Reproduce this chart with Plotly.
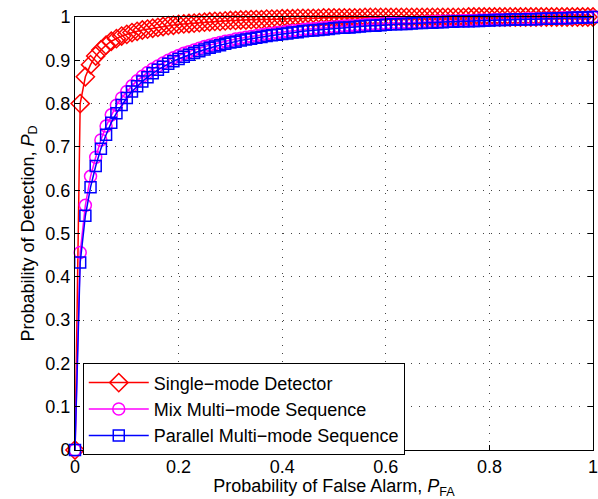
import plotly.graph_objects as go

p_fa = [0.00, 0.01, 0.02, 0.03, 0.04, 0.05, 0.06, 0.07, 0.08, 0.09,
        0.10, 0.11, 0.12, 0.13, 0.14, 0.15, 0.16, 0.17, 0.18, 0.19,
        0.20, 0.21, 0.22, 0.23, 0.24, 0.25, 0.26, 0.27, 0.28, 0.29,
        0.30, 0.31, 0.32, 0.33, 0.34, 0.35, 0.36, 0.37, 0.38, 0.39,
        0.40, 0.41, 0.42, 0.43, 0.44, 0.45, 0.46, 0.47, 0.48, 0.49,
        0.50, 0.51, 0.52, 0.53, 0.54, 0.55, 0.56, 0.57, 0.58, 0.59,
        0.60, 0.61, 0.62, 0.63, 0.64, 0.65, 0.66, 0.67, 0.68, 0.69,
        0.70, 0.71, 0.72, 0.73, 0.74, 0.75, 0.76, 0.77, 0.78, 0.79,
        0.80, 0.81, 0.82, 0.83, 0.84, 0.85, 0.86, 0.87, 0.88, 0.89,
        0.90, 0.91, 0.92, 0.93, 0.94, 0.95, 0.96, 0.97, 0.98, 0.99,
        1.00]

single_mode = [0.000, 0.800, 0.862, 0.890, 0.910, 0.924, 0.935, 0.944, 0.950, 0.956,
               0.960, 0.964, 0.967, 0.970, 0.972, 0.974, 0.976, 0.978, 0.980, 0.981,
               0.983, 0.984, 0.985, 0.986, 0.987, 0.988, 0.989, 0.990, 0.990, 0.991,
               0.992, 0.992, 0.993, 0.993, 0.994, 0.994, 0.994, 0.995, 0.995, 0.995,
               0.996, 0.996, 0.996, 0.997, 0.997, 0.997, 0.997, 0.997, 0.998, 0.998,
               0.998, 0.998, 0.998, 0.998, 0.998, 0.998, 0.999, 0.999, 0.999, 0.999,
               0.999, 0.999, 0.999, 0.999, 0.999, 0.999, 0.999, 0.999, 0.999, 0.999,
               0.999, 0.999, 0.999, 0.999, 0.999, 0.999, 1.000, 1.000, 1.000, 1.000,
               1.000, 1.000, 1.000, 1.000, 1.000, 1.000, 1.000, 1.000, 1.000, 1.000,
               1.000, 1.000, 1.000, 1.000, 1.000, 1.000, 1.000, 1.000, 1.000, 1.000,
               1.000]

mix_multi = [0.000, 0.456, 0.565, 0.632, 0.676, 0.716, 0.748, 0.774, 0.796, 0.813,
             0.828, 0.841, 0.853, 0.863, 0.872, 0.880, 0.887, 0.894, 0.900, 0.906,
             0.911, 0.916, 0.920, 0.924, 0.928, 0.932, 0.935, 0.938, 0.941, 0.944,
             0.946, 0.949, 0.951, 0.953, 0.955, 0.957, 0.959, 0.961, 0.962, 0.964,
             0.965, 0.967, 0.968, 0.969, 0.971, 0.972, 0.973, 0.974, 0.975, 0.976,
             0.977, 0.978, 0.979, 0.980, 0.980, 0.981, 0.982, 0.983, 0.983, 0.984,
             0.985, 0.985, 0.986, 0.986, 0.987, 0.987, 0.988, 0.988, 0.989, 0.989,
             0.990, 0.990, 0.991, 0.991, 0.991, 0.992, 0.992, 0.992, 0.993, 0.993,
             0.993, 0.994, 0.994, 0.994, 0.995, 0.995, 0.995, 0.996, 0.996, 0.996,
             0.996, 0.997, 0.997, 0.997, 0.998, 0.998, 0.998, 0.999, 0.999, 0.999,
             1.000]

parallel_multi = [0.000, 0.433, 0.541, 0.607, 0.656, 0.696, 0.728, 0.756, 0.778, 0.797,
                  0.813, 0.828, 0.840, 0.851, 0.861, 0.870, 0.878, 0.885, 0.892, 0.898,
                  0.903, 0.908, 0.913, 0.917, 0.921, 0.925, 0.929, 0.932, 0.935, 0.938,
                  0.941, 0.943, 0.946, 0.948, 0.950, 0.952, 0.954, 0.956, 0.958, 0.959,
                  0.961, 0.962, 0.964, 0.965, 0.967, 0.968, 0.969, 0.970, 0.971, 0.972,
                  0.974, 0.975, 0.975, 0.976, 0.977, 0.978, 0.979, 0.980, 0.980, 0.981,
                  0.982, 0.983, 0.983, 0.984, 0.984, 0.985, 0.986, 0.986, 0.987, 0.987,
                  0.988, 0.988, 0.989, 0.989, 0.990, 0.990, 0.990, 0.991, 0.991, 0.992,
                  0.992, 0.993, 0.993, 0.993, 0.994, 0.994, 0.994, 0.995, 0.995, 0.995,
                  0.996, 0.996, 0.996, 0.997, 0.997, 0.997, 0.998, 0.998, 0.999, 0.999,
                  1.000]

tick_vals_x = [0, 0.2, 0.4, 0.6, 0.8, 1]
tick_text_x = ["0", "0.2", "0.4", "0.6", "0.8", "1"]
tick_vals_y = [0, 0.1, 0.2, 0.3, 0.4, 0.5, 0.6, 0.7, 0.8, 0.9, 1]
tick_text_y = ["0", "0.1", "0.2", "0.3", "0.4", "0.5", "0.6", "0.7", "0.8", "0.9", "1"]

series = [
    ("Single−mode Detector", single_mode, "#ff0000", "diamond-open", 14),
    ("Mix Multi−mode Sequence", mix_multi, "#ff00ff", "circle-open", 12),
    ("Parallel Multi−mode Sequence", parallel_multi, "#0000ff", "square-open", 11),
]

fig = go.Figure()
for name, vals, color, sym, size in series:
    fig.add_trace(go.Scatter(
        x=p_fa, y=vals, name=name, mode="lines+markers",
        line=dict(color=color, width=1.5),
        marker=dict(symbol=sym, size=size, color=color, line=dict(color=color, width=1.5)),
        cliponaxis=False,
    ))

font_family = "Liberation Sans, Arial, sans-serif"
FS = 18
axis_common = dict(
    showline=True, linecolor="black", linewidth=1, mirror="ticks",
    ticks="inside", ticklen=5, tickcolor="black", tickwidth=1,
    showgrid=True, gridcolor="#444444", gridwidth=1, griddash="1px,7px",
    zeroline=False, automargin=False, ticklabeloverflow="allow",
    tickfont=dict(family=font_family, size=FS, color="black"),
)

fig.update_layout(
    width=598, height=499,
    margin=dict(l=75, r=5, t=17, b=49),
    paper_bgcolor="white", plot_bgcolor="white",
    font=dict(family=font_family, size=FS, color="black"),
    xaxis=dict(range=[0, 1], tickvals=tick_vals_x, ticktext=tick_text_x,
               title=dict(text="Probability of False Alarm, <i>P</i><sub>FA</sub>",
                          font=dict(size=FS), standoff=2),
               **axis_common),
    yaxis=dict(range=[0, 1], tickvals=tick_vals_y, ticktext=tick_text_y,
               title=dict(text="Probability of Detection, <i>P</i><sub>D</sub>",
                          font=dict(size=FS), standoff=6),
               **axis_common),
    legend=dict(x=0.015, y=0.2, xanchor="left", yanchor="top",
                bgcolor="white", bordercolor="black", borderwidth=1,
                font=dict(family=font_family, size=FS, color="black"),
                tracegroupgap=0, itemwidth=60),
    showlegend=True,
)

fig.write_html("out.html", config={"displayModeBar": False},
               post_script="document.body.style.margin='0';document.body.style.overflow='hidden';")
